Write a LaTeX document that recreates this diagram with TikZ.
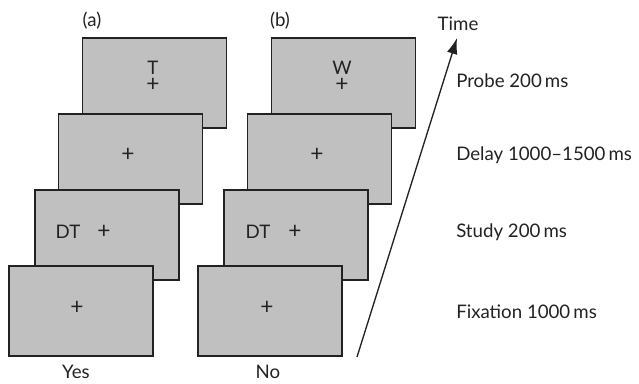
\documentclass[tikz,border=0pt]{standalone}
\usepackage{fontspec}
\setmainfont{Lato}
\usepackage{tikz}
\usetikzlibrary{arrows.meta}
\definecolor{ScreenGray}{RGB}{192,192,192}
\definecolor{InkGray}{RGB}{34,34,34}

\begin{document}
\begin{tikzpicture}[x = 0.75pt, y = -0.75pt,
    screenbox/.style = {draw = InkGray, fill = ScreenGray, line width = 1.1pt,
        minimum width = 108pt, minimum height = 67.5pt, inner sep = 0pt},
    txt/.style = {text = InkGray, font = \fontsize{14}{16}\selectfont, inner sep = 0pt},
    cross/.style = {txt, font = \fontsize{17}{18}\selectfont}]
    \useasboundingbox (0, 0) rectangle (639, 384);
    % condition (a)
    \node [screenbox] (aProbe) at (154.5, 83) {};
    \node [screenbox] (aDelay) at (130.5, 159) {};
    \node [screenbox] (aStudy) at (107, 235) {};
    \node [screenbox] (aFix) at (81, 311) {};
    \node [txt] (aLab) at (92, 21) {(a)};
    \node [txt] (aT) at (153, 68) {T};
    \node [cross] (aProbeCross) at (153, 85) {+};
    \node [cross] (aDelayCross) at (128, 155) {+};
    \node [txt] (aDT) at (68, 232) {DT};
    \node [cross] (aStudyCross) at (104, 232) {+};
    \node [cross] (aFixCross) at (77, 308) {+};
    \node [txt] (aYes) at (76, 372) {Yes};
    % condition (b)
    \node [screenbox] (bProbe) at (343.5, 83) {};
    \node [screenbox] (bDelay) at (319.5, 159) {};
    \node [screenbox] (bStudy) at (296, 235) {};
    \node [screenbox] (bFix) at (270, 311) {};
    \node [txt] (bLab) at (280, 21) {(b)};
    \node [txt] (bW) at (342, 68) {W};
    \node [cross] (bProbeCross) at (342, 85) {+};
    \node [cross] (bDelayCross) at (317, 155) {+};
    \node [txt] (bDT) at (258, 232) {DT};
    \node [cross] (bStudyCross) at (295, 232) {+};
    \node [cross] (bFixCross) at (267, 308) {+};
    \node [txt] (bNo) at (268, 372) {No};
    % time axis
    \coordinate (tStart) at (357, 357);
    \coordinate (tEnd) at (457, 38);
    \draw [InkGray, line width = 1pt, -{Latex[length = 12pt, width = 8pt]}] (tStart) -- (tEnd);
    \node [txt] (time) at (458, 24) {Time};
    \node [txt, anchor = west] (probe) at (456, 81) {Probe 200\,ms};
    \node [txt, anchor = west] (delay) at (456, 155) {Delay 1000--1500\,ms};
    \node [txt, anchor = west] (study) at (456, 232) {Study 200\,ms};
    \node [txt, anchor = west] (fix) at (456, 312) {Fixation 1000\,ms};
\end{tikzpicture}
\end{document}
